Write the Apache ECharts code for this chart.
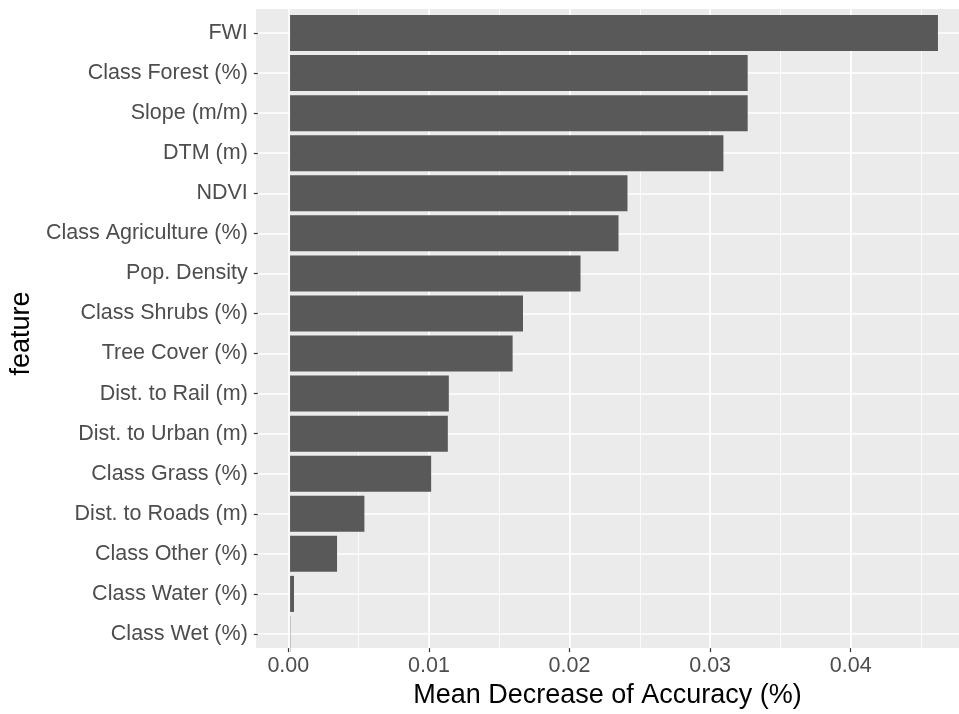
<!DOCTYPE html>
<html>
<head>
<meta charset="utf-8">
<script src="https://cdn.jsdelivr.net/npm/echarts@6/dist/echarts.min.js"></script>
<style>
  html, body { margin: 0; padding: 0; background: #fff; }
  #chart { width: 959px; height: 714px; }
</style>
</head>
<body>
<div id="chart"></div>
<script>
// features, top to bottom
const features = [
  'FWI', 'Class Forest (%)', 'Slope (m/m)', 'DTM (m)', 'NDVI',
  'Class Agriculture (%)', 'Pop. Density', 'Class Shrubs (%)', 'Tree Cover (%)',
  'Dist. to Rail (m)', 'Dist. to Urban (m)', 'Class Grass (%)', 'Dist. to Roads (m)',
  'Class Other (%)', 'Class Water (%)', 'Class Wet (%)'
]
const importance = [
  0.0462, 0.03263, 0.03263, 0.0309, 0.02406,
  0.02342, 0.02071, 0.01661, 0.01587,
  0.01132, 0.01125, 0.01006, 0.0053,
  0.00335, 0.00028, 0.00002
]
const xMin = -0.0023
const xMax = 0.0477

const font = 'Liberation Sans'
const chart = echarts.init(document.getElementById('chart'))

const option = {
  animation: false,
  textStyle: { fontFamily: font },
  grid: [
    // panel background + major vertical lines
    { left: 256, right: 0, top: 9, bottom: 56, show: true, backgroundColor: '#EBEBEB', borderWidth: 0 },
    // bars
    { left: 256, right: 0, top: 13, bottom: 60 },
    // horizontal lines through category centres
    { left: 256, right: 0, top: 33, bottom: 80 },
    // minor vertical lines, starting at x = 0
    { left: 288.34, right: 0, top: 9, bottom: 56 },
  ],
  xAxis: [
    {
      gridIndex: 0,
      type: 'value',
      min: xMin,
      max: xMax,
      splitNumber: 5,
      name: 'Mean Decrease of Accuracy (%)',
      nameLocation: 'middle',
      nameGap: 30,
      nameTextStyle: { color: '#000', fontSize: 27, fontFamily: font },
      axisLine: { show: false, onZero: false },
      axisTick: { show: true, length: 4, lineStyle: { color: '#333', width: 1.2 } },
      axisLabel: {
        color: '#4D4D4D', fontSize: 21.5, margin: 7, fontFamily: font,
        showMinLabel: false, showMaxLabel: false,
        formatter: (v) => v.toFixed(2),
      },
      splitLine: { show: true, showMinLine: false, showMaxLine: false, lineStyle: { color: '#fff', width: 1.6 } },
    },
    { gridIndex: 1, type: 'value', min: xMin, max: xMax, show: false, axisLine: { onZero: false } },
    { gridIndex: 2, type: 'value', min: xMin, max: xMax, show: false, axisLine: { onZero: false } },
    {
      gridIndex: 3,
      type: 'value',
      min: 0,
      max: xMax,
      interval: 0.005,
      axisLine: { show: false, onZero: false },
      axisTick: { show: false },
      axisLabel: { show: false },
      splitLine: { show: true, showMinLine: false, showMaxLine: false, lineStyle: { color: '#fff', width: 0.8 } },
    },
  ],
  yAxis: [
    { gridIndex: 0, type: 'value', show: false, axisLine: { onZero: false } },
    {
      gridIndex: 1,
      type: 'category',
      inverse: true,
      data: features,
      name: 'feature',
      nameLocation: 'middle',
      nameRotate: 90,
      nameGap: 220,
      nameTextStyle: { color: '#000', fontSize: 27, fontFamily: font },
      axisLine: { show: false, onZero: false },
      axisTick: { show: true, alignWithLabel: true, length: 4, lineStyle: { color: '#333', width: 1.2 } },
      axisLabel: { color: '#4D4D4D', fontSize: 21.5, margin: 10, fontFamily: font },
      splitLine: { show: false },
    },
    {
      gridIndex: 2,
      type: 'category',
      inverse: true,
      boundaryGap: false,
      data: features,
      axisLine: { show: false, onZero: false },
      axisTick: { show: false },
      axisLabel: { show: false },
      splitLine: { show: true, interval: 0, lineStyle: { color: '#fff', width: 1.6 } },
    },
    { gridIndex: 3, type: 'value', show: false, axisLine: { onZero: false } },
  ],
  series: [
    {
      type: 'bar',
      xAxisIndex: 1,
      yAxisIndex: 1,
      data: importance,
      barWidth: '90%',
      z: 3,
      itemStyle: { color: '#595959' },
    },
  ],
}

chart.setOption(option)
</script>
</body>
</html>
